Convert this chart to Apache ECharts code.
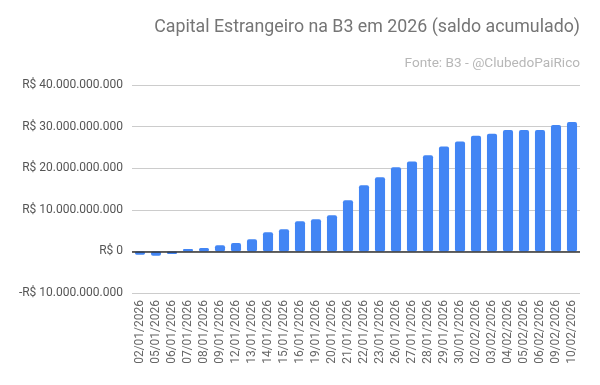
<!DOCTYPE html>
<html>
<head>
<meta charset="utf-8">
<script src="https://cdn.jsdelivr.net/npm/echarts@6/dist/echarts.min.js"></script>
<style>
html,body{margin:0;padding:0;background:#fff;}
#chart{width:600px;height:385px;}
</style>
</head>
<body>
<div id="chart"></div>
<script>
const titleText = 'Capital Estrangeiro na B3 em 2026 (saldo acumulado)';
const subtitleText = 'Fonte: B3 - @ClubedoPaiRico';
const categories = ['02/01/2026','05/01/2026','06/01/2026','07/01/2026','08/01/2026','09/01/2026','12/01/2026','13/01/2026','14/01/2026','15/01/2026','16/01/2026','19/01/2026','20/01/2026','21/01/2026','22/01/2026','23/01/2026','26/01/2026','27/01/2026','28/01/2026','29/01/2026','30/01/2026','02/02/2026','03/02/2026','04/02/2026','05/02/2026','06/02/2026','09/02/2026','10/02/2026'];
// saldo acumulado, em bilhões de R$
const saldoBilhoes = [-0.8,-1.05,-0.6,0.55,0.8,1.5,2.0,2.95,4.6,5.35,7.25,7.75,8.7,12.3,15.9,17.8,20.2,21.6,23.1,25.2,26.4,27.8,28.3,29.2,29.2,29.2,30.4,31.1];
const yMin = -10, yMax = 40, yStep = 10;

function fmt(v){
  if (v === 0) return 'R$ 0';
  const s = Math.abs(v) + '.000.000.000';
  return (v < 0 ? '-' : '') + 'R$ ' + s;
}

const chart = echarts.init(document.getElementById('chart'), null, {renderer:'canvas'});
chart.setOption({
  backgroundColor:'#ffffff',
  animation:false,
  textStyle:{fontFamily:'Roboto'},
  title:[
    {text:titleText, right:20, top:19, padding:0, textStyle:{fontFamily:'Roboto', fontSize:17.8, fontWeight:'normal', color:'#757575'}},
    {text:subtitleText, right:20, top:57, padding:0, textStyle:{fontFamily:'Roboto', fontSize:13.6, fontWeight:'normal', color:'#b7b7b7'}}
  ],
  grid:{left:132, right:20, top:85, bottom:92},
  xAxis:{
    type:'category',
    data:categories,
    axisLine:{show:false, onZero:false},
    axisTick:{show:false},
    axisLabel:{rotate:90, fontSize:12, color:'#666', margin:7, interval:0, fontFamily:'Roboto'}
  },
  yAxis:{
    type:'value',
    min:yMin, max:yMax, interval:yStep,
    axisLine:{show:false},
    axisTick:{show:false},
    axisLabel:{formatter:fmt, fontSize:12, color:'#555', margin:9, fontFamily:'Roboto'},
    splitLine:{show:true, showMinLine:true, showMaxLine:true, lineStyle:{color:'#cccccc', width:1}}
  },
  series:[{
    type:'bar',
    data:saldoBilhoes,
    barCategoryGap:'37%',
    itemStyle:{color:'#4285F4', borderRadius:2},
    markLine:{
      silent:true,
      symbol:'none',
      label:{show:false},
      lineStyle:{color:'#333333', width:1.5, type:'solid'},
      data:[{yAxis:0}]
    }
  }]
});
</script>
</body>
</html>
